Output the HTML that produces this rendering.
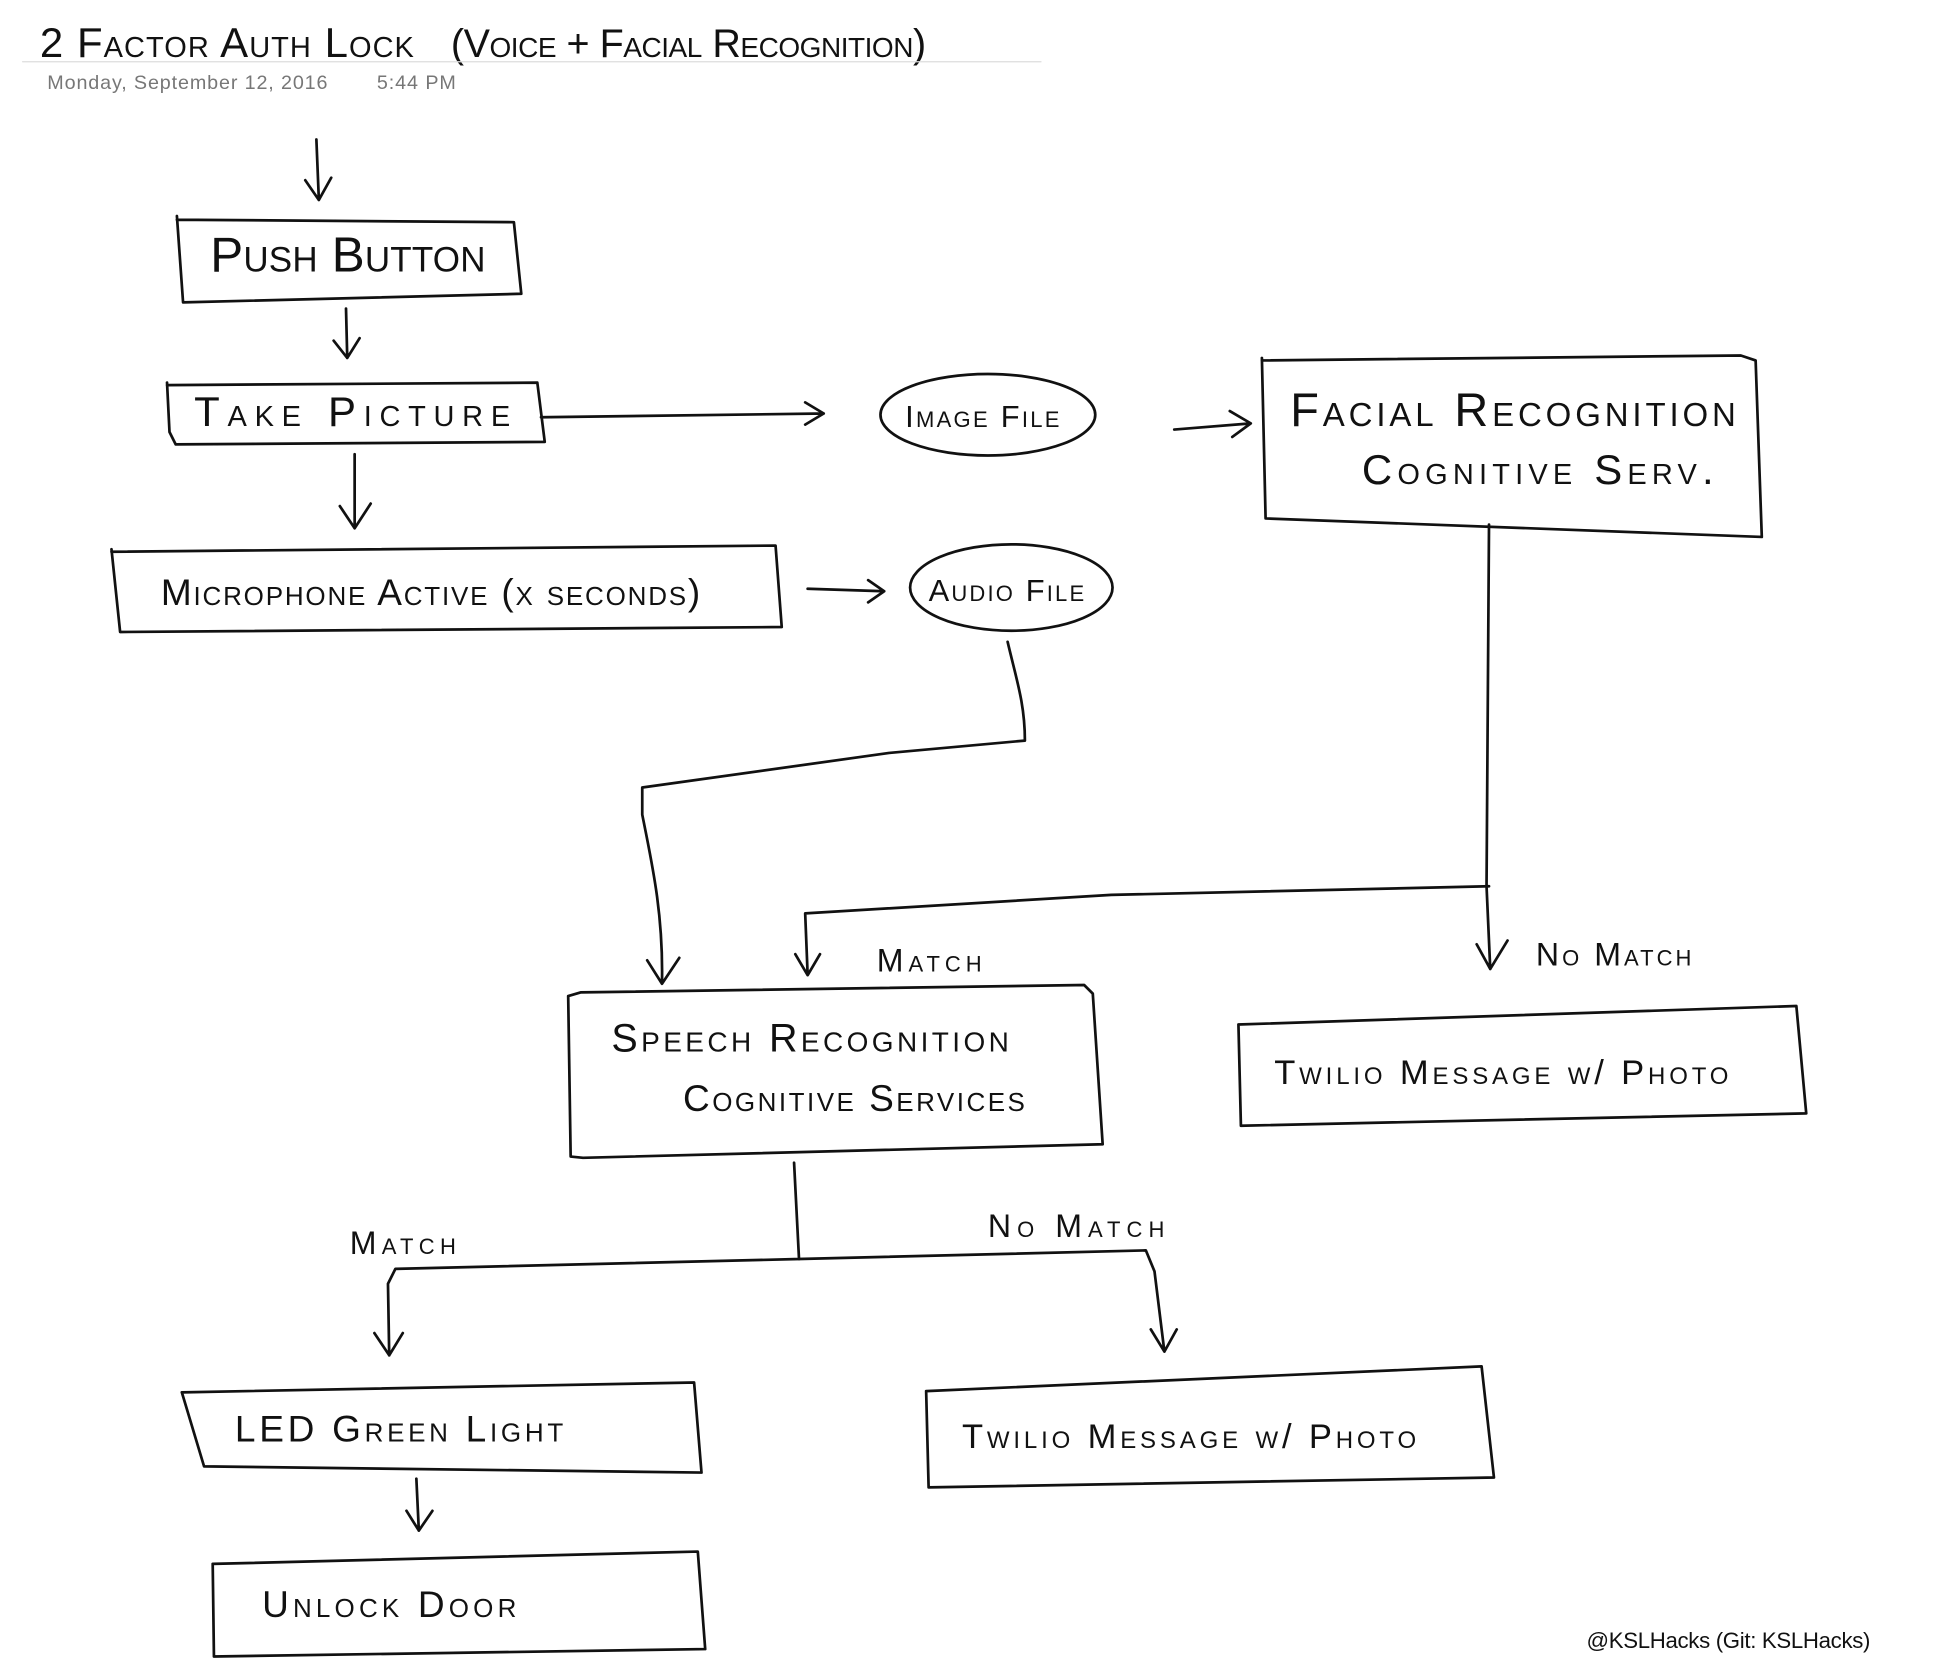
<!DOCTYPE html>
<html><head><meta charset="utf-8"><style>
html,body{margin:0;padding:0;background:#fff;}
svg{display:block}
.h{font-family:"Liberation Sans",sans-serif;font-variant:small-caps;fill:#111;}
.m{font-family:"Liberation Sans",sans-serif;fill:#777;font-size:16px}
path,line,rect,ellipse{fill:none;stroke:#111;stroke-width:2.2;stroke-linecap:round;stroke-linejoin:round}
</style></head><body>
<svg width="1935" height="1675" viewBox="0 0 1567 1357" xmlns="http://www.w3.org/2000/svg">
<text class="h" x="32" y="46" font-size="34" textLength="303" lengthAdjust="spacing">2 Factor Auth Lock</text>
<text class="h" x="365" y="46" font-size="32" textLength="385" lengthAdjust="spacing">(Voice + Facial Recognition)</text>
<line x1="18" y1="50" x2="843" y2="50" style="stroke:#ddd;stroke-width:1"/>
<text class="m" x="38" y="72" textLength="227" lengthAdjust="spacing">Monday, September 12, 2016</text>
<text class="m" x="305" y="72" textLength="64" lengthAdjust="spacing">5:44 PM</text>

<path d="M256 113 L258 162 M247 146 L258 162 L268 144"/>
<path d="M143 175 L148 245 L422 238 L416 180 L143 178"/>
<text class="h" x="170" y="220" font-size="40" textLength="223" lengthAdjust="spacing">Push Button</text>
<path d="M280 250 L281 290 M270 276 L281 290 L291 274"/>
<path d="M135 310 L137 350 L142 360 L441 358 L435 310 L135 312"/>
<text class="h" x="157" y="345" font-size="34" textLength="256" lengthAdjust="spacing">Take Picture</text>
<path d="M438 338 L667 335 M652 326 L667 335 L652 344"/>
<ellipse cx="800" cy="336" rx="87" ry="33"/>
<text class="h" x="733" y="346" font-size="25" textLength="125" lengthAdjust="spacing">Image File</text>
<path d="M951 348 L1013 343 M996 333 L1013 343 L998 354"/>
<path d="M1022 290 L1025 420 L1427 435 L1422 292 L1410 288 L1022 292"/>
<text class="h" x="1045" y="345" font-size="38" textLength="361" lengthAdjust="spacing">Facial Recognition</text>
<text class="h" x="1103" y="392" font-size="34" textLength="285" lengthAdjust="spacing">Cognitive Serv.</text>
<path d="M287 368 L287 428 M275 410 L287 428 L300 408"/>
<path d="M90 445 L97 512 L633 508 L628 442 L90 447"/>
<text class="h" x="130" y="490" font-size="30" textLength="437" lengthAdjust="spacing">Microphone Active  (x seconds)</text>
<path d="M654 477 L716 479 M703 470 L716 479 L703 488"/>
<ellipse cx="819" cy="476" rx="82" ry="35"/>
<text class="h" x="752" y="487" font-size="25" textLength="126" lengthAdjust="spacing">Audio File</text>
<path d="M816 520 C823 550 830 570 830 600 L720 610 L520 638 L520 660 C528 700 537 740 536 795 M524 778 L536 797 L550 776"/>
<path d="M1206 425 L1204 718 L1207 785 M1196 765 L1207 785 L1221 762"/>
<path d="M1206 718 L900 725 L652 740 L654 790 M644 773 L654 790 L664 773"/>
<text class="h" x="710" y="787" font-size="26" textLength="85" lengthAdjust="spacing">Match</text>
<text class="h" x="1244" y="782" font-size="26" textLength="126" lengthAdjust="spacing">No Match</text>
<path d="M460 807 L462 937 L472 938 L893 927 L885 805 L878 798 L470 804 L460 807"/>
<text class="h" x="495" y="852" font-size="32" textLength="322" lengthAdjust="spacing">Speech Recognition</text>
<text class="h" x="553" y="900" font-size="30" textLength="277" lengthAdjust="spacing">Cognitive Services</text>
<path d="M1003 830 L1005 912 L1463 902 L1455 815 L1003 830"/>
<text class="h" x="1032" y="878" font-size="28" textLength="368" lengthAdjust="spacing">Twilio Message w/ Photo</text>
<path d="M643 942 L647 1020 L320 1028 L314 1040 L315 1098 M303 1080 L315 1098 L326 1080"/>
<path d="M647 1020 L928 1013 L935 1030 L943 1095 M932 1077 L943 1095 L953 1077"/>
<text class="h" x="283" y="1016" font-size="26" textLength="86" lengthAdjust="spacing">Match</text>
<text class="h" x="800" y="1002" font-size="26" textLength="143" lengthAdjust="spacing">No Match</text>
<path d="M147 1128 L165 1188 L568 1193 L562 1120 L147 1128"/>
<text class="h" x="190" y="1168" font-size="30" textLength="266" lengthAdjust="spacing">LED Green Light</text>
<path d="M337 1198 L339 1240 M329 1224 L339 1240 L350 1224"/>
<path d="M172 1267 L173 1342 L571 1336 L565 1257 L172 1267"/>
<text class="h" x="212" y="1310" font-size="30" textLength="206" lengthAdjust="spacing">Unlock Door</text>
<path d="M750 1127 L752 1205 L1210 1197 L1200 1107 L750 1127"/>
<text class="h" x="779" y="1173" font-size="28" textLength="368" lengthAdjust="spacing">Twilio Message w/ Photo</text>
<text x="1285" y="1335" textLength="230" lengthAdjust="spacing" style="font-family:'Liberation Sans',sans-serif;font-size:18px;fill:#111">@KSLHacks (Git: KSLHacks)</text>
</svg>
</body></html>
